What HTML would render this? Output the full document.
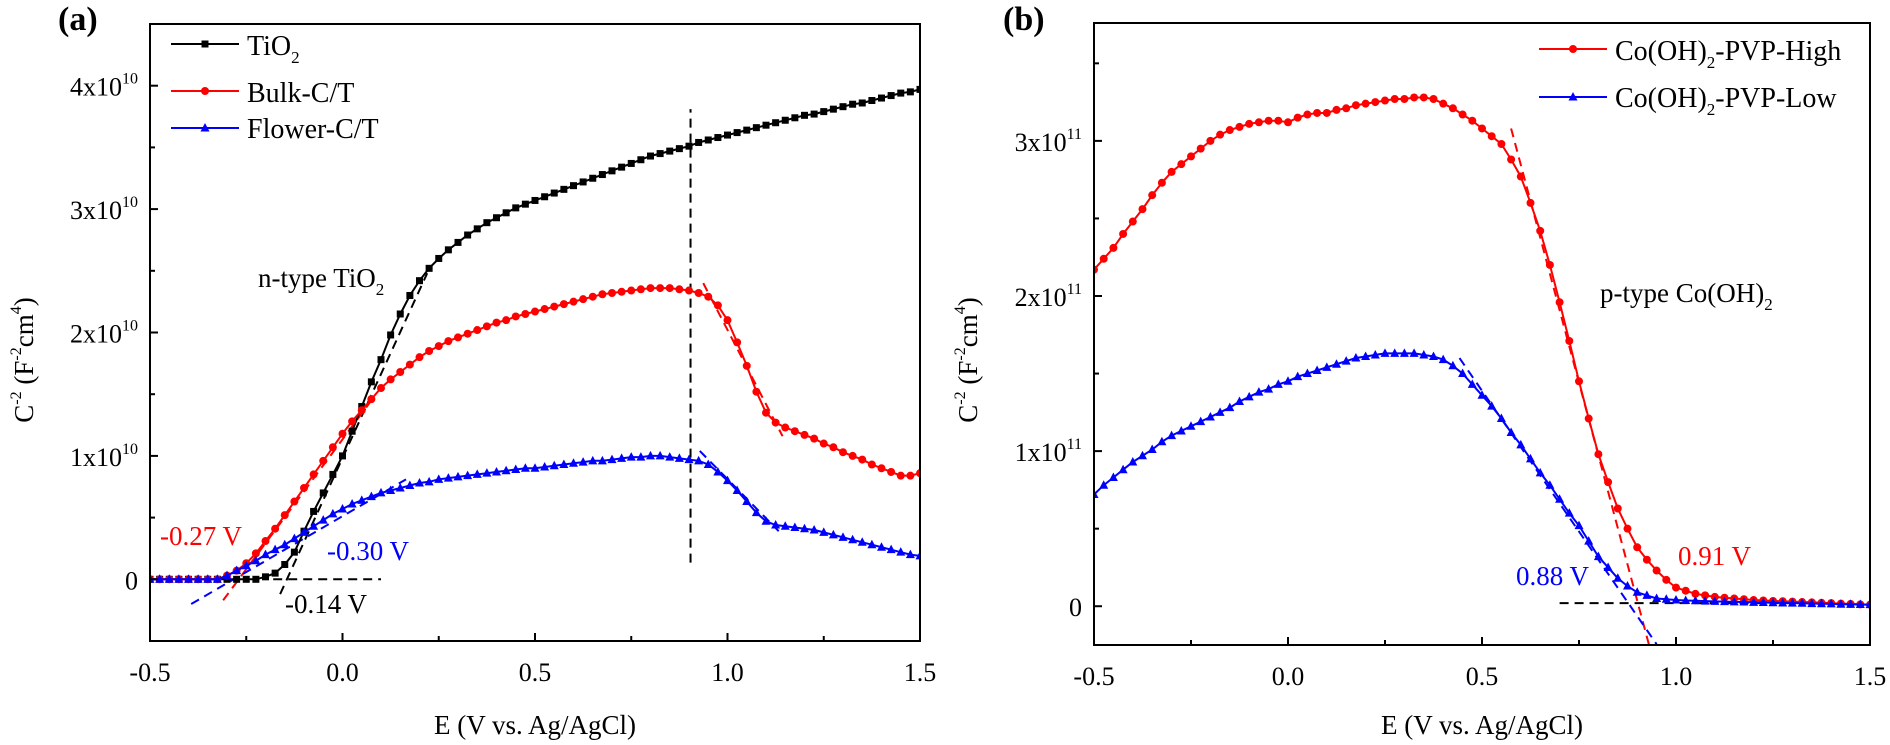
<!DOCTYPE html>
<html><head><meta charset="utf-8"><style>
html,body{margin:0;padding:0;background:#fff;}
svg{display:block;font-family:"Liberation Serif",serif;}
</style></head><body>
<svg id="fig" width="1890" height="745" viewBox="0 0 1890 745" xmlns="http://www.w3.org/2000/svg">
<g id="pa"></g>
<g id="pb"></g>
</svg>
<script>
// ---------- Panel A data (x in V, y in 1e10 F^-2cm^4), step 0.025 from -0.5 ----------
const aX0 = -0.5, aStep = 0.025;
const tio2 = [0,0,0,0,0,0,0,0,0,0,0,0,0.02,0.05,0.12,0.22,0.39,0.55,0.7,0.85,1.0,1.2,1.4,1.6,1.78,1.98,2.15,2.3,2.42,2.52,2.6,2.67,2.73,2.79,2.84,2.89,2.93,2.97,3.01,3.04,3.07,3.1,3.13,3.16,3.19,3.22,3.25,3.28,3.31,3.34,3.37,3.4,3.43,3.45,3.47,3.49,3.51,3.54,3.56,3.58,3.6,3.62,3.64,3.66,3.68,3.7,3.72,3.74,3.76,3.77,3.79,3.81,3.83,3.85,3.86,3.88,3.9,3.92,3.94,3.95,3.97];
const bulk = [0,0,0,0,0,0,0,0,0.03,0.07,0.13,0.21,0.31,0.41,0.52,0.63,0.74,0.85,0.96,1.07,1.18,1.28,1.37,1.46,1.55,1.62,1.68,1.74,1.8,1.85,1.89,1.93,1.96,1.99,2.02,2.05,2.08,2.1,2.13,2.15,2.17,2.19,2.21,2.23,2.25,2.27,2.29,2.31,2.32,2.33,2.34,2.35,2.36,2.36,2.36,2.35,2.34,2.32,2.29,2.22,2.1,1.92,1.73,1.52,1.35,1.27,1.23,1.2,1.17,1.14,1.1,1.07,1.03,1.0,0.97,0.93,0.9,0.87,0.84,0.84,0.86];
const flower = [0,0,0,0,0,0,0,0,0.03,0.07,0.11,0.15,0.2,0.24,0.28,0.33,0.38,0.43,0.48,0.53,0.57,0.61,0.64,0.67,0.7,0.72,0.74,0.76,0.78,0.79,0.81,0.82,0.83,0.84,0.85,0.86,0.87,0.88,0.89,0.9,0.9,0.91,0.92,0.93,0.94,0.95,0.96,0.96,0.97,0.98,0.99,0.99,1.0,1.0,0.99,0.98,0.97,0.96,0.93,0.87,0.8,0.72,0.63,0.54,0.47,0.44,0.43,0.42,0.41,0.4,0.38,0.36,0.34,0.32,0.3,0.28,0.26,0.24,0.22,0.2,0.19];
const aXTicks = [-0.5,0.0,0.5,1.0,1.5];
const aXTickLabels = ["-0.5","0.0","0.5","1.0","1.5"];
const aYTicks = [0,1,2,3,4];
const aYTickLabels = ["0","1x10","2x10","3x10","4x10"];
// fit lines [x1,y1,x2,y2]
const aFits = [
 {c:"#000", p:[-0.162,-0.12,0.22,2.48]},
 {c:"#000", p:[-0.18,0,0.1,0]},
 {c:"#000", p:[0.904,0.135,0.904,3.81]},
 {c:"#f00", p:[-0.31,-0.17,0.08,1.47]},
 {c:"#00f", p:[-0.393,-0.2,0.165,0.81]},
 {c:"#f00", p:[0.937,2.4,1.143,1.16]},
 {c:"#00f", p:[0.928,1.04,1.133,0.39]}
];
// ---------- Panel B data (y in 1e11) ----------
const bX0 = -0.5, bStep = 0.025;
const high = [2.17,2.24,2.31,2.4,2.48,2.56,2.65,2.73,2.8,2.85,2.9,2.95,3.0,3.04,3.07,3.09,3.11,3.12,3.13,3.13,3.12,3.15,3.17,3.18,3.18,3.2,3.21,3.23,3.24,3.25,3.26,3.27,3.27,3.28,3.28,3.27,3.24,3.21,3.17,3.13,3.08,3.03,2.98,2.88,2.77,2.6,2.42,2.2,1.96,1.71,1.45,1.21,0.98,0.8,0.63,0.5,0.38,0.3,0.23,0.17,0.12,0.1,0.08,0.07,0.06,0.055,0.05,0.045,0.04,0.037,0.034,0.032,0.03,0.027,0.025,0.022,0.02,0.017,0.015,0.012,0.01];
const low = [0.72,0.78,0.83,0.88,0.93,0.97,1.01,1.06,1.1,1.13,1.16,1.19,1.22,1.25,1.28,1.32,1.35,1.38,1.4,1.43,1.45,1.48,1.5,1.52,1.54,1.56,1.58,1.6,1.61,1.62,1.63,1.63,1.63,1.63,1.62,1.61,1.59,1.55,1.5,1.43,1.36,1.29,1.21,1.12,1.04,0.95,0.86,0.78,0.69,0.6,0.52,0.42,0.32,0.25,0.18,0.13,0.09,0.07,0.05,0.045,0.04,0.037,0.035,0.033,0.031,0.03,0.028,0.027,0.025,0.024,0.022,0.021,0.02,0.019,0.017,0.016,0.015,0.013,0.012,0.011,0.01];
const bXTicks = [-0.5,0.0,0.5,1.0,1.5];
const bXTickLabels = ["-0.5","0.0","0.5","1.0","1.5"];
const bYTicks = [0,1,2,3];
const bYTickLabels = ["0","1x10","2x10","3x10"];
const bFits = [
 {c:"#f00", p:[0.575,3.08,0.93,-0.245]},
 {c:"#00f", p:[0.442,1.6,0.95,-0.245]},
 {c:"#000", p:[0.7,0.02,1.4,0.02]}
];

const NS="http://www.w3.org/2000/svg";
function mk(tag, parent, attrs){const e=document.createElementNS(NS,tag);for(const k in attrs)e.setAttribute(k,attrs[k]);parent.appendChild(e);return e;}

function panel(g, cfg){
  const L=cfg.L,R=cfg.R,T=cfg.T,B=cfg.B;
  const sx=v=>L+(v-cfg.xmin)/(cfg.xmax-cfg.xmin)*(R-L);
  const sy=v=>B-(v-cfg.ymin)/(cfg.ymax-cfg.ymin)*(B-T);
  const clip="clip"+cfg.id;
  const defs=mk("defs",g,{});
  const cp=mk("clipPath",defs,{id:clip});
  mk("rect",cp,{x:L,y:T,width:R-L,height:B-T});
  // fits
  cfg.fits.forEach(f=>{
    const l=mk("line",g,{x1:sx(f.p[0]),y1:sy(f.p[1]),x2:sx(f.p[2]),y2:sy(f.p[3]),stroke:f.c,"stroke-width":2,"stroke-dasharray":"9,6","clip-path":"url(#"+clip+")"});
    
    
  });
  // series
  cfg.series.forEach(s=>{
    const sg=mk("g",g,{"clip-path":"url(#"+clip+")"});
    
    
    const pts=s.v.map((v,i)=>[sx(cfg.x0+i*cfg.step),sy(v)]);
    mk("polyline",sg,{points:pts.map(p=>p[0].toFixed(1)+","+p[1].toFixed(1)).join(" "),fill:"none",stroke:s.c,"stroke-width":2});
    pts.forEach(p=>marker(sg,s.m,p[0],p[1],s.c));
  });
  // frame
  const fr=mk("rect",g,{x:L,y:T,width:R-L,height:B-T,fill:"none",stroke:"#000","stroke-width":2});
  
  
  // x ticks
  cfg.xt.forEach((v,i)=>{
    mk("line",g,{x1:sx(v),y1:B,x2:sx(v),y2:B-8,stroke:"#000","stroke-width":2});
    if(i<cfg.xt.length-1){const m=(v+cfg.xt[i+1])/2;mk("line",g,{x1:sx(m),y1:B,x2:sx(m),y2:B-5,stroke:"#000","stroke-width":2});}
    const t=mk("text",g,{x:sx(v),y:B+40,"font-size":26,"text-anchor":"middle"});
    t.textContent=cfg.xtl[i];
    
    
  });
  // y ticks
  cfg.yt.forEach((v,i)=>{
    mk("line",g,{x1:L,y1:sy(v),x2:L+8,y2:sy(v),stroke:"#000","stroke-width":2});
    const m=v+(cfg.yt[1]-cfg.yt[0])/2;
    if(sy(m)>T) mk("line",g,{x1:L,y1:sy(m),x2:L+5,y2:sy(m),stroke:"#000","stroke-width":2});
    const t=mk("text",g,{x:L-12,y:sy(v)+10,"font-size":26,"text-anchor":"end"});
    
    
    if(v===0){t.textContent=cfg.ytl[i];}
    else{
      const a=mk("tspan",t,{});a.textContent=cfg.ytl[i];
      const b=mk("tspan",t,{"font-size":16,dy:-12});b.textContent=cfg.exp;
    }
  });
  // minor below 0
  const mneg=cfg.yt[0]-(cfg.yt[1]-cfg.yt[0])/2;
  if(sy(mneg)<B) mk("line",g,{x1:L,y1:sy(mneg),x2:L+5,y2:sy(mneg),stroke:"#000","stroke-width":2});
  // axis titles
  const xt=mk("text",g,{x:(L+R)/2,y:734,"font-size":27,"text-anchor":"middle"});
  xt.textContent="E (V vs. Ag/AgCl)";
  
  
  const yt=mk("text",g,{transform:"translate("+cfg.ytx+",360) rotate(-90)","font-size":27,"text-anchor":"middle"});
  
  
  yt.innerHTML='C<tspan font-size="16" dy="-12">-2</tspan><tspan dy="12"> (F</tspan><tspan font-size="16" dy="-12">-2</tspan><tspan dy="12">cm</tspan><tspan font-size="16" dy="-12">4</tspan><tspan dy="12">)</tspan>';
  return {sx,sy};
}
function marker(g,m,x,y,c){
  if(m==="s") mk("rect",g,{x:x-3.5,y:y-3.5,width:7,height:7,fill:c});
  else if(m==="c") mk("circle",g,{cx:x,cy:y,r:4,fill:c});
  else mk("polygon",g,{points:`${x},${y-5} ${x-4.5},${y+3.5} ${x+4.5},${y+3.5}`,fill:c});
}
function txt(g,x,y,s,c,name,fs){const t=mk("text",g,{x:x,y:y,"font-size":fs||27,fill:c});t.innerHTML=s;return t;}
function legend(g,x1,x2,y,m,c,tx,ty,label,name){
  const lg=mk("g",g,{});
  
  
  mk("line",lg,{x1:x1,y1:y,x2:x2,y2:y,stroke:c,"stroke-width":2});
  marker(lg,m,(x1+x2)/2,y,c);
  const t=mk("text",lg,{x:tx,y:ty,"font-size":28});t.innerHTML=label;
}

const ga=document.getElementById("pa");
panel(ga,{id:"a",L:150,R:920,T:24,B:641,xmin:-0.5,xmax:1.5,ymin:-0.5,ymax:4.5,x0:aX0,step:aStep,
  xt:aXTicks,xtl:aXTickLabels,yt:aYTicks,ytl:aYTickLabels,exp:"10",ytx:33,fits:aFits,
  series:[{name:"series-tio2",v:tio2,c:"#000",m:"s"},{name:"series-bulk-ct",v:bulk,c:"#f00",m:"c"},{name:"series-flower-ct",v:flower,c:"#00f",m:"t"}]});
legend(ga,171,239,44,"s","#000",247,55,'TiO<tspan font-size="17" dy="8">2</tspan>',"legend-tio2");
legend(ga,171,239,91,"c","#f00",247,102,'Bulk-C/T',"legend-bulk-ct");
legend(ga,171,239,128,"t","#00f",247,138,'Flower-C/T',"legend-flower-ct");
txt(ga,258,287,'n-type TiO<tspan font-size="17" dy="8">2</tspan>',"#000","annotation-n-type");
txt(ga,160,545,'-0.27 V',"#f00","annotation-bulk-onset");
txt(ga,327,560,'-0.30 V',"#00f","annotation-flower-onset");
txt(ga,285,613,'-0.14 V',"#000","annotation-tio2-onset");
txt(ga,58,30,'(a)',"#000","panel-label-a",34).setAttribute("font-weight","bold");

const gb=document.getElementById("pb");
panel(gb,{id:"b",L:1094,R:1870,T:23,B:645,xmin:-0.5,xmax:1.5,ymin:-0.25,ymax:3.76,x0:bX0,step:bStep,
  xt:bXTicks,xtl:bXTickLabels,yt:bYTicks,ytl:bYTickLabels,exp:"11",ytx:977,fits:bFits,
  series:[{name:"series-pvp-high",v:high,c:"#f00",m:"c"},{name:"series-pvp-low",v:low,c:"#00f",m:"t"}]});
legend(gb,1539,1607,49,"c","#f00",1615,60,'Co(OH)<tspan font-size="17" dy="8">2</tspan><tspan dy="-8">-PVP-High</tspan>',"legend-pvp-high");
legend(gb,1539,1607,97,"t","#00f",1615,107,'Co(OH)<tspan font-size="17" dy="8">2</tspan><tspan dy="-8">-PVP-Low</tspan>',"legend-pvp-low");
txt(gb,1600,302,'p-type Co(OH)<tspan font-size="17" dy="8">2</tspan>',"#000","annotation-p-type");
txt(gb,1516,585,'0.88 V',"#00f","annotation-low-onset");
txt(gb,1678,565,'0.91 V',"#f00","annotation-high-onset");
txt(gb,1003,30,'(b)',"#000","panel-label-b",34).setAttribute("font-weight","bold");
</script>
</body></html>
